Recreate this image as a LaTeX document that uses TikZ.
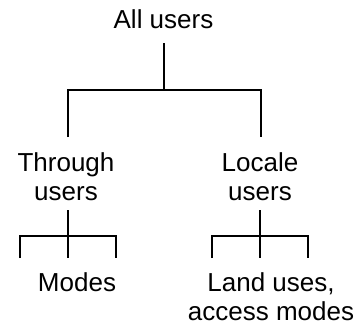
\documentclass[tikz,border=0pt]{standalone}
\usepackage{fontspec}
\setmainfont{Liberation Sans}
\begin{document}
\begin{tikzpicture}[x=1pt,y=-1pt,
  lbl/.style={anchor=base,align=center,inner sep=0pt,font=\fontsize{26}{29}\selectfont},
  conn/.style={line width=1.8pt,line cap=butt}]
\useasboundingbox[fill=white] (0,0) rectangle (363,327);
% texts (base anchor = baseline of the last line)
\node[lbl] (all) at (163.5,28) {All users};
\node[lbl] (thr) at (66,200) {Through\\users};
\node[lbl] (loc) at (260,200) {Locale\\users};
\node[lbl] (mod) at (77,291) {Modes};
\node[lbl] (land) at (271,320) {Land uses,\\access modes};
% junctions
\coordinate (a0) at (164,43);
\coordinate (a1) at (164,90);
\coordinate (aL) at (68,90);
\coordinate (aR) at (261,90);
\coordinate (aLb) at (68,137);
\coordinate (aRb) at (261,137);
\coordinate (t0) at (68,210);
\coordinate (t1) at (68,236);
\coordinate (tL) at (20,236);
\coordinate (tR) at (116,236);
\coordinate (tLb) at (20,258);
\coordinate (tMb) at (68,258);
\coordinate (tRb) at (116,258);
\coordinate (l0) at (260,210);
\coordinate (l1) at (260,236);
\coordinate (lL) at (212,236);
\coordinate (lR) at (308,236);
\coordinate (lLb) at (212,258);
\coordinate (lMb) at (260,258);
\coordinate (lRb) at (308,258);
% connectors
\draw[conn] (a0) -- (a1);
\draw[conn] (aLb) -- (aL) -- (aR) -- (aRb);
\draw[conn] (t0) -- (tMb);
\draw[conn] (tLb) -- (tL) -- (tR) -- (tRb);
\draw[conn] (l0) -- (lMb);
\draw[conn] (lLb) -- (lL) -- (lR) -- (lRb);
\end{tikzpicture}
\end{document}
